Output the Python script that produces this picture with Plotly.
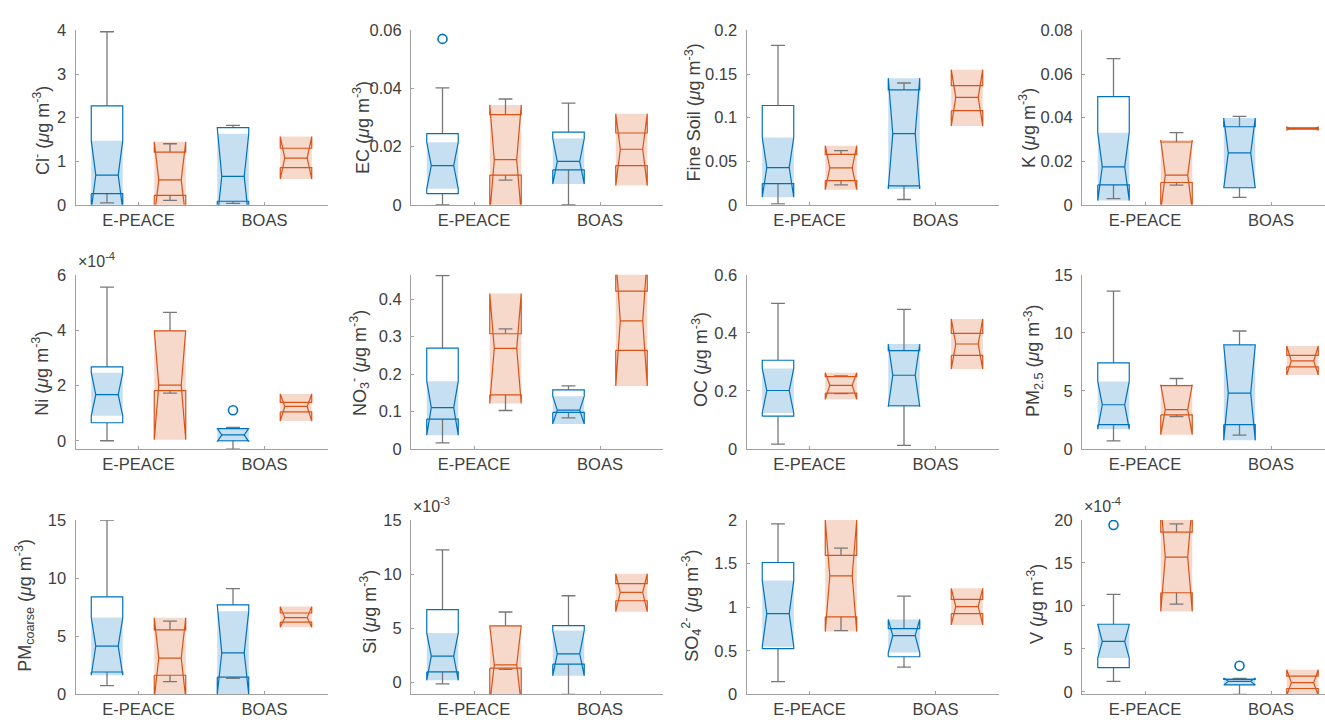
import plotly.graph_objects as go

W, H = 1325, 728

# Four boxes per panel: E-PEACE (blue, orange), BOAS (blue, orange)
box_pos = [0.75, 1.25, 1.75, 2.25]
box_colors = ["#0072BD", "#D95319", "#0072BD", "#D95319"]
box_fills = ["rgba(0,114,189,0.22)", "rgba(217,83,25,0.22)",
             "rgba(0,114,189,0.22)", "rgba(217,83,25,0.22)"]
group_labels = ["E-PEACE", "BOAS"]

y_titles = [
    "Cl<sup>-</sup> (<i>μ</i>g m<sup>-3</sup>)",
    "EC (<i>μ</i>g m<sup>-3</sup>)",
    "Fine Soil (<i>μ</i>g m<sup>-3</sup>)",
    "K (<i>μ</i>g m<sup>-3</sup>)",
    "Ni (<i>μ</i>g m<sup>-3</sup>)",
    "NO<sub>3</sub><sup>-</sup> (<i>μ</i>g m<sup>-3</sup>)",
    "OC (<i>μ</i>g m<sup>-3</sup>)",
    "PM<sub>2.5</sub> (<i>μ</i>g m<sup>-3</sup>)",
    "PM<sub>coarse</sub> (<i>μ</i>g m<sup>-3</sup>)",
    "Si (<i>μ</i>g m<sup>-3</sup>)",
    "SO<sub>4</sub><sup>2-</sup> (<i>μ</i>g m<sup>-3</sup>)",
    "V (<i>μ</i>g m<sup>-3</sup>)",
]

# axis multiplier shown above the axis (values below are in these units)
exponents = [None, None, None, None, "-4", None, None, None, None, "-3", None, "-4"]

y_ranges = [
    [0, 4], [0, 0.06], [0, 0.2], [0, 0.08],
    [-0.3, 6], [0, 0.465], [0, 0.6], [0, 15],
    [0, 15], [-1.11, 15], [0, 2], [-0.3, 20],
]

y_ticks = [
    ["0", "1", "2", "3", "4"],
    ["0", "0.02", "0.04", "0.06"],
    ["0", "0.05", "0.1", "0.15", "0.2"],
    ["0", "0.02", "0.04", "0.06", "0.08"],
    ["0", "2", "4", "6"],
    ["0", "0.1", "0.2", "0.3", "0.4"],
    ["0", "0.2", "0.4", "0.6"],
    ["0", "5", "10", "15"],
    ["0", "5", "10", "15"],
    ["0", "5", "10", "15"],
    ["0", "0.5", "1", "1.5", "2"],
    ["0", "5", "10", "15", "20"],
]

# box statistics, one row per panel, columns follow box_pos
whisker_hi = [
    [3.97, 1.40, 1.82, 1.296],
    [0.0402, 0.0364, 0.035, 0.0247],
    [0.1828, 0.0622, 0.1397, 0.1367],
    [0.0671, 0.0331, 0.0406, 0.0353],
    [5.55, 4.64, 0.48, 1.39],
    [0.463, 0.3205, 0.1685, 0.4216],
    [0.5015, 0.252, 0.481, 0.3985],
    [13.6, 6.07, 10.16, 8.06],
    [15.0, 6.3, 9.09, 7.0],
    [12.25, 6.5, 8.0, 9.13],
    [1.955, 1.677, 1.126, 1.089],
    [11.34, 19.55, 1.55, 1.81],
]
q3 = [
    [2.27, 1.206, 1.768, 1.296],
    [0.0245, 0.031, 0.025, 0.0247],
    [0.1139, 0.0577, 0.1318, 0.1367],
    [0.0496, 0.0288, 0.0358, 0.0353],
    [2.67, 3.97, 0.44, 1.39],
    [0.269, 0.3076, 0.158, 0.4216],
    [0.3056, 0.2496, 0.339, 0.3985],
    [7.42, 5.45, 8.96, 8.06],
    [8.39, 5.55, 7.69, 7.0],
    [6.71, 5.22, 5.24, 9.13],
    [1.513, 1.595, 0.755, 1.089],
    [7.86, 18.6, 1.45, 1.81],
]
median = [
    [0.68, 0.57, 0.65, 1.07],
    [0.0135, 0.0155, 0.0149, 0.0191],
    [0.0427, 0.0423, 0.0816, 0.1232],
    [0.0174, 0.0136, 0.0238, 0.035],
    [1.665, 2.01, 0.21, 1.24],
    [0.1106, 0.2687, 0.1037, 0.342],
    [0.2015, 0.2194, 0.254, 0.3616],
    [3.81, 3.39, 4.82, 7.58],
    [4.15, 3.12, 3.57, 6.6],
    [2.43, 1.62, 2.63, 8.32],
    [0.926, 1.36, 0.673, 1.007],
    [5.86, 15.69, 1.21, 1.06],
]
q1 = [
    [0.255, 0.217, 0.08, 0.854],
    [0.0038, 0.0102, 0.012, 0.0135],
    [0.0243, 0.0277, 0.0217, 0.1079],
    [0.0091, 0.0102, 0.0078, 0.0347],
    [0.65, 1.81, 0.0, 1.04],
    [0.080, 0.1443, 0.0976, 0.2635],
    [0.113, 0.1925, 0.149, 0.3224],
    [2.10, 2.94, 2.10, 7.08],
    [1.92, 1.64, 1.48, 6.22],
    [0.96, 1.32, 1.68, 7.54],
    [0.524, 0.888, 0.431, 0.926],
    [2.80, 11.53, 0.8, 0.38],
]
whisker_lo = [
    [0.045, 0.10, 0.03, 0.854],
    [0.0, 0.0085, 0.0, 0.0135],
    [0.0011, 0.0228, 0.006, 0.1079],
    [0.0028, 0.009, 0.0034, 0.0347],
    [0.0, 1.72, -0.3, 1.04],
    [0.0164, 0.1028, 0.083, 0.2635],
    [0.0168, 0.191, 0.0123, 0.3224],
    [0.70, 2.8, 1.2, 7.08],
    [0.75, 1.09, 1.37, 6.22],
    [-0.15, 1.2, -1.11, 7.54],
    [0.145, 0.732, 0.312, 0.926],
    [1.21, 10.2, -0.3, 0.38],
]
notch_lo = [
    [-0.11, -0.3, -0.33, 0.59],
    [0.0055, -0.0033, 0.0071, 0.0066],
    [0.0086, 0.0172, 0.018, 0.0903],
    [0.0019, -0.0025, 0.0076, 0.0343],
    [0.9, 0.035, -0.03, 0.71],
    [0.037, 0.1218, 0.067, 0.1685],
    [0.1243, 0.1713, 0.146, 0.2754],
    [1.71, 1.24, 0.75, 6.38],
    [1.64, -0.34, -0.02, 5.77],
    [0.18, -2.0, 0.6, 6.53],
    [0.547, 0.72, 0.48, 0.796],
    [3.93, 9.34, 0.78, -0.45],
]
notch_hi = [
    [1.47, 1.445, 1.63, 1.566],
    [0.0215, 0.0343, 0.0228, 0.0313],
    [0.0772, 0.0678, 0.1453, 0.155],
    [0.0331, 0.0297, 0.0398, 0.0357],
    [2.46, 3.99, 0.45, 1.69],
    [0.181, 0.4147, 0.141, 0.515],
    [0.2776, 0.263, 0.3616, 0.4478],
    [5.82, 5.54, 8.9, 8.87],
    [6.61, 6.58, 7.16, 7.55],
    [4.55, 5.25, 4.79, 10.03],
    [1.305, 2.0, 0.859, 1.216],
    [7.8, 22.0, 1.6, 2.57],
]
# outliers: (panel, box index, value)
outliers = [
    (1, 0, 0.0571),
    (4, 2, 1.1),
    (11, 0, 19.43),
    (11, 2, 3.02),
]

# page geometry in pixels
col_left = [75.5, 411.0, 746.5, 1082.0]
axis_w = 252.0
row_top = [22.0, 272.5, 524.0]
axis_h = 178.7

title_x = [42, 362, 693, 1028, 41, 359, 700, 1033, 25, 369, 692, 1036]
title_y = [124, 122, 106, 122, 374, 363, 360, 361, 612, 618, 612, 610]

half_w = 0.125
notch_d = 0.036
cap_w = 0.055

FONT = "Liberation Sans, Arial, Helvetica, sans-serif"
AXIS_COLOR = "#a0a0a0"
TEXT_COLOR = "#404040"
WHISKER_COLOR = "#777777"

fig = go.Figure()
layout = dict(
    width=W, height=H, margin=dict(l=0, r=0, t=0, b=0),
    paper_bgcolor="white", plot_bgcolor="white", showlegend=False,
    font=dict(family=FONT, color=TEXT_COLOR),
)
annotations = []

for p in range(12):
    r, c = divmod(p, 4)
    xa = "x" if p == 0 else f"x{p + 1}"
    ya = "y" if p == 0 else f"y{p + 1}"
    left_px = col_left[c]
    right_px = min(left_px + axis_w, W)
    x_hi = 0.5 + 2.0 * (right_px - left_px) / axis_w
    top_px = row_top[r]
    bot_px = top_px + axis_h

    common = dict(showline=True, linecolor=AXIS_COLOR, linewidth=1, showgrid=False,
                  zeroline=False, ticks="inside", ticklen=3, tickcolor=AXIS_COLOR,
                  tickfont=dict(size=16.5, color=TEXT_COLOR, family=FONT), mirror=False)
    layout["xaxis" if p == 0 else f"xaxis{p + 1}"] = dict(
        common, domain=[left_px / W, right_px / W], range=[0.5, x_hi],
        tickvals=[1, 2], ticktext=group_labels, anchor=ya, fixedrange=True)
    tick_vals = [float(t) for t in y_ticks[p]]
    layout["yaxis" if p == 0 else f"yaxis{p + 1}"] = dict(
        common, domain=[1 - bot_px / H, 1 - top_px / H], range=y_ranges[p],
        tickvals=tick_vals, ticktext=y_ticks[p], anchor=xa, fixedrange=True,
        ticklabelstandoff=5)

    for b in range(4):
        x0 = box_pos[b]
        L, R = x0 - half_w, x0 + half_w
        lo, hi = notch_lo[p][b], notch_hi[p][b]
        # shaded band over the notch interval
        fig.add_trace(go.Scatter(
            x=[L, R, R, L, L], y=[lo, lo, hi, hi, lo], mode="lines", fill="toself",
            fillcolor=box_fills[b], line=dict(width=0), hoverinfo="skip",
            xaxis=xa, yaxis=ya))

    # whiskers and caps
    wx, wy = [], []
    for b in range(4):
        x0 = box_pos[b]
        if whisker_hi[p][b] > q3[p][b]:
            wx += [x0, x0, None, x0 - cap_w, x0 + cap_w, None]
            wy += [q3[p][b], whisker_hi[p][b], None, whisker_hi[p][b], whisker_hi[p][b], None]
        if whisker_lo[p][b] < q1[p][b]:
            wx += [x0, x0, None, x0 - cap_w, x0 + cap_w, None]
            wy += [q1[p][b], whisker_lo[p][b], None, whisker_lo[p][b], whisker_lo[p][b], None]
    fig.add_trace(go.Scatter(x=wx, y=wy, mode="lines",
                             line=dict(color=WHISKER_COLOR, width=1.3),
                             hoverinfo="skip", xaxis=xa, yaxis=ya))

    # notched box outline and median
    for b in range(4):
        x0 = box_pos[b]
        L, R = x0 - half_w, x0 + half_w
        a, lo, m, hi, d = q1[p][b], notch_lo[p][b], median[p][b], notch_hi[p][b], q3[p][b]
        ox = [L, L, L + notch_d, L, L, R, R, R - notch_d, R, R, L, None,
              L + notch_d, R - notch_d]
        oy = [a, lo, m, hi, d, d, hi, m, lo, a, a, None, m, m]
        fig.add_trace(go.Scatter(x=ox, y=oy, mode="lines",
                                 line=dict(color=box_colors[b], width=1.2),
                                 hoverinfo="skip", xaxis=xa, yaxis=ya))

    ox_pts = [box_pos[b] for (pp, b, v) in outliers if pp == p]
    oy_pts = [v for (pp, b, v) in outliers if pp == p]
    if ox_pts:
        fig.add_trace(go.Scatter(
            x=ox_pts, y=oy_pts, mode="markers",
            marker=dict(symbol="circle-open", size=9, color="#0072BD", line=dict(width=1.6)),
            hoverinfo="skip", xaxis=xa, yaxis=ya))

    annotations.append(dict(
        text=y_titles[p], textangle=-90, showarrow=False,
        x=title_x[p] / W, y=1 - title_y[p] / H, xref="paper", yref="paper",
        xanchor="center", yanchor="middle",
        font=dict(size=18, color=TEXT_COLOR, family=FONT)))

    if exponents[p]:
        annotations.append(dict(
            text=f"×10<sup>{exponents[p]}</sup>", showarrow=False,
            x=left_px / W, y=1 - (top_px - 3) / H, xref="paper", yref="paper",
            xanchor="left", yanchor="bottom",
            font=dict(size=16, color=TEXT_COLOR, family=FONT)))

layout["annotations"] = annotations
fig.update_layout(**layout)
fig.write_html("out.html")
